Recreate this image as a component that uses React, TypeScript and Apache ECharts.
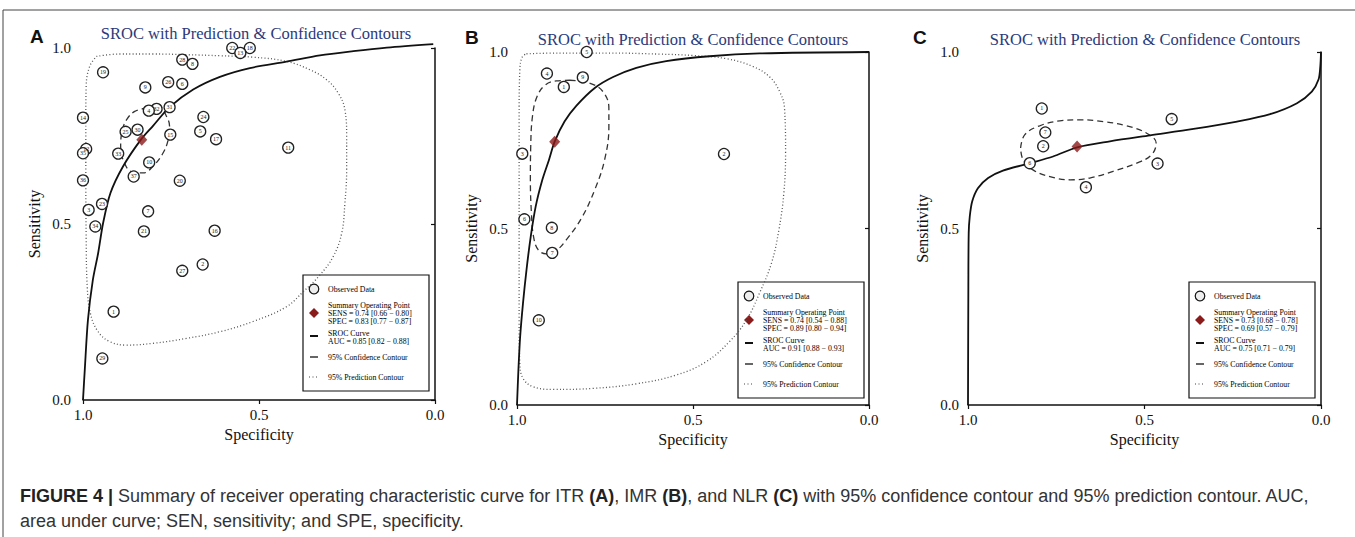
import React, { useEffect, useRef } from "react";
import * as echarts from "echarts";

const W = 1355;
const H = 537;
const SERIF = "'Liberation Serif', 'Times New Roman', serif";
const SANS = "'Liberation Sans', Arial, sans-serif";

// ---------- shared texts ----------
const panelLetters = ["A", "B", "C"];
const chartTitle = "SROC with Prediction & Confidence Contours";
const tickValues = [0, 0.5, 1];

// ---------- Panel A (ITR) ----------
const obsALabels = ["22", "18", "13", "28", "8", "19", "26", "6", "9", "31", "32", "4", "24", "14", "5", "17", "11", "25", "30", "15", "12", "35", "33", "10", "37", "20", "36", "23", "3", "7", "34", "21", "16", "2", "27", "1", "29"];
const obsASpec = [0.576, 0.526, 0.553, 0.718, 0.689, 0.943, 0.758, 0.718, 0.823, 0.754, 0.791, 0.813, 0.658, 1.0, 0.667, 0.622, 0.417, 0.879, 0.845, 0.752, 0.991, 1.0, 0.9, 0.812, 0.856, 0.725, 1.0, 0.946, 0.984, 0.815, 0.965, 0.827, 0.626, 0.66, 0.718, 0.913, 0.945];
const obsASens = [1.0, 1.0, 0.986, 0.967, 0.955, 0.931, 0.903, 0.898, 0.888, 0.832, 0.827, 0.822, 0.804, 0.802, 0.763, 0.741, 0.717, 0.762, 0.768, 0.754, 0.713, 0.701, 0.7, 0.675, 0.635, 0.623, 0.624, 0.557, 0.54, 0.536, 0.493, 0.479, 0.481, 0.385, 0.367, 0.251, 0.118];
const summaryA = [0.833, 0.739];
const srocA = [[1.0, 0.0], [0.995, 0.085], [0.986, 0.227], [0.972, 0.341], [0.957, 0.417], [0.943, 0.502], [0.922, 0.588], [0.886, 0.664], [0.836, 0.739], [0.801, 0.779], [0.754, 0.832], [0.687, 0.882], [0.611, 0.918], [0.526, 0.943], [0.422, 0.961], [0.327, 0.979], [0.232, 0.991], [0.137, 1.001], [0.005, 1.011]];
const confA = [[0.82, 0.829], [0.782, 0.832], [0.763, 0.806], [0.754, 0.777], [0.758, 0.739], [0.773, 0.701], [0.801, 0.664], [0.829, 0.645], [0.863, 0.649], [0.886, 0.682], [0.893, 0.72], [0.888, 0.768], [0.875, 0.798], [0.853, 0.82], [0.82, 0.829]];
const predA = [[0.962, 0.976], [0.896, 0.983], [0.801, 0.983], [0.706, 0.981], [0.611, 0.978], [0.517, 0.974], [0.422, 0.962], [0.355, 0.938], [0.308, 0.91], [0.275, 0.872], [0.256, 0.825], [0.251, 0.749], [0.251, 0.654], [0.256, 0.559], [0.265, 0.474], [0.289, 0.408], [0.327, 0.355], [0.374, 0.308], [0.422, 0.265], [0.517, 0.223], [0.611, 0.194], [0.706, 0.175], [0.801, 0.161], [0.877, 0.156], [0.924, 0.166], [0.957, 0.194], [0.979, 0.246], [0.988, 0.322], [0.991, 0.464], [0.992, 0.654], [0.992, 0.796], [0.991, 0.891], [0.981, 0.948], [0.962, 0.976]];
const legendA = ["SENS = 0.74 [0.66 \u2212 0.80]", "SPEC = 0.83 [0.77 \u2212 0.87]", "AUC = 0.85 [0.82 \u2212 0.88]"];

// ---------- Panel B (IMR) ----------
const obsBLabels = ["5", "4", "9", "1", "3", "2", "6", "8", "7", "10"];
const obsBSpec = [0.802, 0.915, 0.813, 0.867, 0.985, 0.412, 0.979, 0.901, 0.9, 0.938];
const obsBSens = [1.0, 0.939, 0.928, 0.901, 0.712, 0.711, 0.526, 0.502, 0.431, 0.24];
const summaryB = [0.893, 0.746];
const srocB = [[1.0, 0.0], [0.996, 0.099], [0.991, 0.194], [0.983, 0.288], [0.973, 0.383], [0.961, 0.477], [0.947, 0.562], [0.928, 0.638], [0.909, 0.695], [0.893, 0.746], [0.865, 0.803], [0.831, 0.848], [0.779, 0.898], [0.727, 0.929], [0.661, 0.955], [0.576, 0.974], [0.453, 0.988], [0.311, 0.996], [0.0, 1.0]];
const confB = [[0.85, 0.92], [0.794, 0.912], [0.756, 0.888], [0.739, 0.841], [0.739, 0.789], [0.751, 0.695], [0.779, 0.61], [0.817, 0.529], [0.86, 0.468], [0.888, 0.438], [0.917, 0.428], [0.94, 0.44], [0.953, 0.477], [0.959, 0.543], [0.962, 0.638], [0.961, 0.733], [0.956, 0.818], [0.943, 0.874], [0.919, 0.907], [0.888, 0.918], [0.85, 0.92]];
const predB = [[0.973, 0.995], [0.879, 0.997], [0.737, 0.997], [0.595, 0.994], [0.5, 0.99], [0.405, 0.981], [0.33, 0.959], [0.282, 0.929], [0.254, 0.888], [0.24, 0.841], [0.237, 0.714], [0.242, 0.6], [0.256, 0.496], [0.277, 0.402], [0.311, 0.317], [0.348, 0.241], [0.396, 0.18], [0.462, 0.123], [0.547, 0.085], [0.661, 0.06], [0.784, 0.047], [0.898, 0.044], [0.955, 0.052], [0.983, 0.076], [0.992, 0.118], [0.994, 0.241], [0.994, 0.525], [0.994, 0.808], [0.992, 0.95], [0.985, 0.986], [0.973, 0.995]];
const legendB = ["SENS = 0.74 [0.54 \u2212 0.88]", "SPEC = 0.89 [0.80 \u2212 0.94]", "AUC = 0.91 [0.88 \u2212 0.93]"];

// ---------- Panel C (NLR) ----------
const obsCLabels = ["1", "5", "7", "2", "6", "3", "4"];
const obsCSpec = [0.791, 0.423, 0.781, 0.787, 0.825, 0.463, 0.666];
const obsCSens = [0.84, 0.81, 0.772, 0.733, 0.685, 0.684, 0.617];
const summaryC = [0.691, 0.732];
const srocC = [[1.0, 0.0], [0.999, 0.336], [0.998, 0.487], [0.995, 0.534], [0.988, 0.577], [0.972, 0.614], [0.943, 0.643], [0.901, 0.664], [0.825, 0.685], [0.759, 0.704], [0.691, 0.73], [0.598, 0.747], [0.484, 0.764], [0.361, 0.782], [0.238, 0.803], [0.144, 0.824], [0.068, 0.855], [0.026, 0.888], [0.007, 0.922], [0.002, 0.959], [0.0, 1.0]];
const confC = [[0.851, 0.728], [0.839, 0.766], [0.797, 0.791], [0.74, 0.805], [0.683, 0.808], [0.617, 0.803], [0.551, 0.791], [0.494, 0.77], [0.467, 0.742], [0.48, 0.709], [0.522, 0.685], [0.589, 0.662], [0.655, 0.643], [0.711, 0.638], [0.768, 0.647], [0.816, 0.666], [0.844, 0.695], [0.851, 0.728]];
const legendC = ["SENS = 0.73 [0.68 \u2212 0.78]", "SPEC = 0.69 [0.57 \u2212 0.79]", "AUC = 0.75 [0.71 \u2212 0.79]"];

const captionLine1 = "{b|FIGURE 4 |} Summary of receiver operating characteristic curve for ITR {b|(A)}, IMR {b|(B)}, and NLR {b|(C)} with 95% confidence contour and 95% prediction contour. AUC,";
const captionLine2 = "area under curve; SEN, sensitivity; and SPE, specificity.";

// ---------- layout ----------
const layout = [
  { left: 83, top: 48, width: 352, height: 352, yOffset: 3, title: [256, 33], letter: [30, 36], legend: [303, 275] },
  { left: 517, top: 52, width: 352, height: 353, yOffset: 0, title: [693, 39], letter: [465, 37], legend: [738, 282] },
  { left: 968, top: 52, width: 353, height: 353, yOffset: 0, title: [1145, 39], letter: [913, 37], legend: [1189, 282] },
];

const panels = [
  { labels: obsALabels, spec: obsASpec, sens: obsASens, summary: summaryA, sroc: srocA, conf: confA, pred: predA, legend: legendA },
  { labels: obsBLabels, spec: obsBSpec, sens: obsBSens, summary: summaryB, sroc: srocB, conf: confB, pred: predB, legend: legendB },
  { labels: obsCLabels, spec: obsCSpec, sens: obsCSens, summary: summaryC, sroc: srocC, conf: confC, pred: null as number[][] | null, legend: legendC },
];

const INK = "#111";
const DIAMOND = "#8b1a1a";

function legendElements(x0: number, y0: number, lines: string[]) {
  const fs = 7.8;
  const txt = (x: number, y: number, t: string) => ({
    type: "text",
    x,
    y,
    style: { text: t, fontSize: fs, fontFamily: SERIF, fill: "#000", verticalAlign: "middle", textVerticalAlign: "middle", align: "left", textAlign: "left" },
  });
  return [
    { type: "rect", shape: { x: x0, y: y0, width: 126, height: 116 }, style: { fill: "#fff", stroke: INK, lineWidth: 1.2 } },
    { type: "circle", shape: { cx: x0 + 11, cy: y0 + 14, r: 4.8 }, style: { fill: "#eee", stroke: INK, lineWidth: 1.2 } },
    txt(x0 + 25, y0 + 14, "Observed Data"),
    { type: "polygon", shape: { points: [[x0 + 11, y0 + 33], [x0 + 16, y0 + 38], [x0 + 11, y0 + 43], [x0 + 6, y0 + 38]] }, style: { fill: DIAMOND } },
    txt(x0 + 25, y0 + 30, "Summary Operating Point"),
    txt(x0 + 25, y0 + 38, lines[0]),
    txt(x0 + 25, y0 + 46, lines[1]),
    { type: "line", shape: { x1: x0 + 7, y1: y0 + 61, x2: x0 + 15, y2: y0 + 61 }, style: { stroke: INK, lineWidth: 2 } },
    txt(x0 + 25, y0 + 58, "SROC Curve"),
    txt(x0 + 25, y0 + 66, lines[2]),
    { type: "line", shape: { x1: x0 + 7, y1: y0 + 82, x2: x0 + 15, y2: y0 + 82 }, style: { stroke: "#333", lineWidth: 1.5 } },
    txt(x0 + 25, y0 + 82, "95% Confidence Contour"),
    { type: "line", shape: { x1: x0 + 6, y1: y0 + 102, x2: x0 + 16, y2: y0 + 102 }, style: { stroke: "#444", lineWidth: 1.1, lineDash: [1, 2.5] } },
    txt(x0 + 25, y0 + 102, "95% Prediction Contour"),
  ];
}

function buildOption() {
  const grid: any[] = [];
  const xAxis: any[] = [];
  const yAxis: any[] = [];
  const series: any[] = [];
  const elements: any[] = [];

  elements.push({ type: "line", shape: { x1: 3, y1: 10, x2: W, y2: 10 }, style: { stroke: "#444", lineWidth: 1 } });
  elements.push({ type: "line", shape: { x1: 3, y1: 10, x2: 3, y2: H }, style: { stroke: "#444", lineWidth: 1 } });

  panels.forEach((p, i) => {
    const L = layout[i];
    grid.push({ left: L.left, top: L.top, width: L.width, height: L.height, containLabel: false });
    xAxis.push({
      gridIndex: i,
      type: "value",
      inverse: true,
      min: tickValues[0],
      max: tickValues[tickValues.length - 1],
      interval: 0.5,
      name: "Specificity",
      nameLocation: "middle",
      nameGap: 24,
      nameTextStyle: { fontFamily: SERIF, fontSize: 16, color: INK },
      axisLine: { lineStyle: { color: INK, width: 1.5 } },
      axisTick: { length: 4, lineStyle: { color: INK, width: 1.2 } },
      axisLabel: { fontFamily: SERIF, fontSize: 15, color: INK, margin: 7, formatter: (v: number) => v.toFixed(1) },
      splitLine: { show: false },
    });
    yAxis.push({
      gridIndex: i,
      type: "value",
      min: tickValues[0],
      max: tickValues[tickValues.length - 1],
      interval: 0.5,
      offset: L.yOffset,
      name: "Sensitivity",
      nameLocation: "middle",
      nameGap: 38,
      nameTextStyle: { fontFamily: SERIF, fontSize: 16, color: INK },
      axisLine: { show: true, lineStyle: { color: INK, width: 1.5 } },
      axisTick: { show: true, length: 4, lineStyle: { color: INK, width: 1.2 } },
      axisLabel: { fontFamily: SERIF, fontSize: 15, color: INK, margin: 9, formatter: (v: number) => v.toFixed(1) },
      splitLine: { show: false },
    });

    if (p.pred) {
      series.push({
        type: "line", xAxisIndex: i, yAxisIndex: i, data: p.pred, showSymbol: false, smooth: 0.4, clip: false,
        lineStyle: { color: "#555", width: 1.3, type: [1, 2.3] }, z: 2, silent: true,
      });
    }
    series.push({
      type: "line", xAxisIndex: i, yAxisIndex: i, data: p.conf, showSymbol: false, smooth: 0.4, clip: false,
      lineStyle: { color: "#333", width: 1.3, type: [6, 4] }, z: 3, silent: true,
    });
    series.push({
      type: "line", xAxisIndex: i, yAxisIndex: i, data: p.sroc, showSymbol: false, smooth: 0.3, clip: false,
      lineStyle: { color: INK, width: 1.8 }, z: 4, silent: true,
    });
    series.push({
      type: "scatter", xAxisIndex: i, yAxisIndex: i, clip: false, z: 5,
      data: p.labels.map((lab, k) => ({ name: lab, value: [p.spec[k], p.sens[k]] })),
      symbol: "circle", symbolSize: 11,
      itemStyle: { color: "#fff", borderColor: "#222", borderWidth: 1.3, opacity: 1 },
      label: { show: true, position: "inside", formatter: "{b}", fontSize: 6, fontFamily: SERIF, color: "#222" },
    });
    series.push({
      type: "scatter", xAxisIndex: i, yAxisIndex: i, clip: false, z: 6,
      data: [p.summary], symbol: "diamond", symbolSize: [11, 12],
      itemStyle: { color: DIAMOND },
    });

    elements.push({
      type: "text", x: L.title[0], y: L.title[1], z: 50,
      style: { text: chartTitle, fontSize: 16.5, fontFamily: SERIF, fill: "#2b3a7c", align: "center", textAlign: "center", verticalAlign: "middle", textVerticalAlign: "middle" },
    });
    elements.push({
      type: "text", x: L.letter[0], y: L.letter[1], z: 50,
      style: { text: panelLetters[i], fontSize: 19, fontWeight: "bold", fontFamily: SANS, fill: INK, align: "left", textAlign: "left", verticalAlign: "middle", textVerticalAlign: "middle" },
    });
    elements.push({ type: "group", z: 100, children: legendElements(L.legend[0], L.legend[1], p.legend) });
  });

  const capStyle = { fontSize: 18, fontFamily: SANS, fill: "#333", align: "left", textAlign: "left", verticalAlign: "middle", textVerticalAlign: "middle" };
  elements.push({
    type: "text", x: 20, y: 496, z: 50,
    style: { ...capStyle, text: captionLine1, rich: { b: { fontSize: 18, fontFamily: SANS, fontWeight: "bold", fill: "#222", color: "#222" } } },
  });
  elements.push({ type: "text", x: 20, y: 521, z: 50, style: { ...capStyle, text: captionLine2 } });

  return {
    animation: false,
    backgroundColor: "#fff",
    grid,
    xAxis,
    yAxis,
    series,
    graphic: { elements },
  };
}

export default function App() {
  const ref = useRef<HTMLDivElement>(null);
  useEffect(() => {
    if (!ref.current) return;
    const chart = echarts.init(ref.current, null, { renderer: "svg", width: W, height: H });
    chart.setOption(buildOption() as any);
    return () => chart.dispose();
  }, []);
  return <div ref={ref} style={{ position: "absolute", left: 0, top: 0, width: W, height: H, background: "#fff" }} />;
}
